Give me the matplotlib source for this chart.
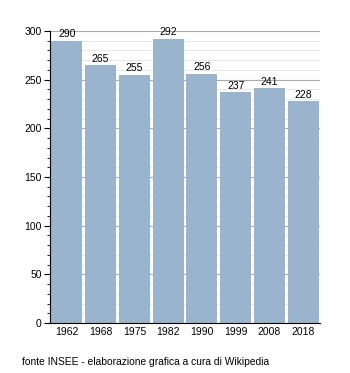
import matplotlib
matplotlib.use("Agg")
import matplotlib.pyplot as plt
from matplotlib.ticker import MultipleLocator

years = ["1962", "1968", "1975", "1982", "1990", "1999", "2008", "2018"]
population = [290, 265, 255, 292, 256, 237, 241, 228]
source = "fonte INSEE - elaborazione grafica a cura di Wikipedia"

plt.rcParams['font.family'] = ['Liberation Sans', 'DejaVu Sans']

fig = plt.figure(figsize=(3.5, 3.73), dpi=100)
ax = fig.add_axes([50/350, 1-323/373, 270/350, 292/373])

x = list(range(len(years)))
ax.set_ylim(0, 300)
ax.set_xlim(-0.5, len(years) - 0.5)
ax.yaxis.set_major_locator(MultipleLocator(50))
ax.yaxis.set_minor_locator(MultipleLocator(10))
ax.grid(axis='y', which='major', color='#aaaaaa', linewidth=0.8, zorder=0)
ax.grid(axis='y', which='minor', color='#e4e4e4', linewidth=0.6, zorder=0)
ax.set_axisbelow(True)

bars = ax.bar(x, population, width=0.92, color='#9bb4cd', zorder=2)
for xi, v in zip(x, population):
    ax.text(xi, v + 1.5, str(v), ha='center', va='bottom', fontsize=7.5, color='black', zorder=3)

ax.set_xticks(x)
ax.set_xticklabels(years, fontsize=7.5)
ax.tick_params(axis='x', length=0, pad=3)
ax.tick_params(axis='y', which='major', length=4, labelsize=7.5, pad=2)
ax.tick_params(axis='y', which='minor', length=2)
for s in ['top', 'right']:
    ax.spines[s].set_visible(False)
ax.spines['left'].set_linewidth(0.8)
ax.spines['bottom'].set_linewidth(0.8)

fig.text(22/350, 1-362/373, source, fontsize=7.4, va='center', ha='left')

fig.savefig("out.png", dpi=100)
